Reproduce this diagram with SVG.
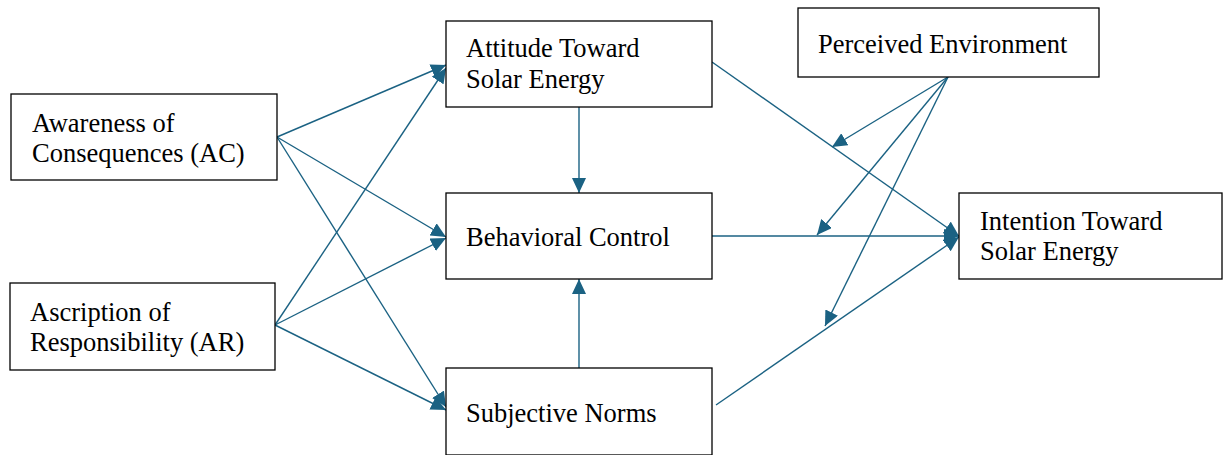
<svg xmlns="http://www.w3.org/2000/svg" width="1224" height="455" viewBox="0 0 1224 455">
<style>
.box{fill:#fff;stroke:#000;stroke-width:1.3}
.t{font-family:"Liberation Serif","Times New Roman",serif;font-size:26.5px;fill:#000}
.c{stroke:#1b6283;stroke-width:1.4;fill:none;marker-end:url(#ah)}
</style>
<defs>
<marker id="ah" markerUnits="userSpaceOnUse" markerWidth="16" markerHeight="14" refX="15" refY="7" orient="auto">
<path d="M0,0 L15,7 L0,14 z" fill="#1b6283"/>
</marker>
</defs>
<rect width="1224" height="455" fill="#fff"/>
<g id="connectors">
<line class="c" x1="277" y1="137" x2="446" y2="65"/>
<line class="c" x1="277" y1="137" x2="446" y2="237"/>
<line class="c" x1="277" y1="137" x2="446" y2="407"/>
<line class="c" x1="275" y1="325" x2="446" y2="68"/>
<line class="c" x1="275" y1="325" x2="446" y2="238"/>
<line class="c" x1="275" y1="325" x2="446" y2="410"/>
<line class="c" x1="579" y1="107" x2="579" y2="193"/>
<line class="c" x1="579" y1="368" x2="579" y2="279"/>
<line class="c" x1="712" y1="62" x2="959" y2="236"/>
<line class="c" x1="712" y1="236" x2="959" y2="236"/>
<line class="c" x1="716" y1="405" x2="959" y2="237"/>
<line class="c" x1="948" y1="77" x2="832" y2="147"/>
<line class="c" x1="948" y1="77" x2="817" y2="235"/>
<line class="c" x1="948" y1="77" x2="825" y2="326"/>
</g>
<g id="ac">
<rect class="box" x="11" y="94" width="266" height="86"/>
<text class="t" x="32" y="132">Awareness of</text>
<text class="t" x="32" y="162">Consequences (AC)</text>
</g>
<g id="ar">
<rect class="box" x="10" y="283" width="265" height="87"/>
<text class="t" x="30" y="321">Ascription of</text>
<text class="t" x="30" y="351">Responsibility (AR)</text>
</g>
<g id="attitude">
<rect class="box" x="446" y="21" width="266" height="86"/>
<text class="t" x="466" y="57">Attitude Toward</text>
<text class="t" x="466" y="88">Solar Energy</text>
</g>
<g id="behavioral">
<rect class="box" x="446" y="193" width="266" height="86"/>
<text class="t" x="466" y="246">Behavioral Control</text>
</g>
<g id="subjective">
<rect class="box" x="446" y="368" width="266" height="87"/>
<text class="t" x="466" y="422">Subjective Norms</text>
</g>
<g id="perceived">
<rect class="box" x="798" y="8" width="301" height="69"/>
<text class="t" x="818" y="53">Perceived Environment</text>
</g>
<g id="intention">
<rect class="box" x="959" y="193" width="263" height="86"/>
<text class="t" x="980" y="230">Intention Toward</text>
<text class="t" x="980" y="260">Solar Energy</text>
</g>
</svg>
